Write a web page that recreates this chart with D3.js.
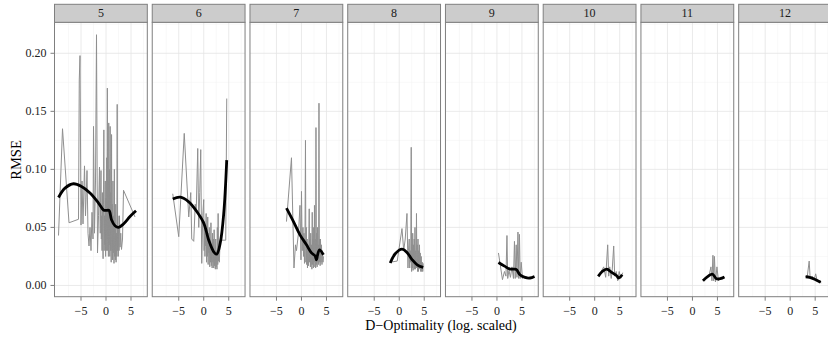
<!DOCTYPE html>
<html>
<head>
<meta charset="utf-8">
<script src="https://cdn.jsdelivr.net/npm/d3@7"></script>
<style>
  html, body { margin: 0; padding: 0; background: #fff; }
  svg { display: block; }
  text { font-family: "Liberation Serif", "DejaVu Serif", serif; }
</style>
</head>
<body>
<svg id="chart" width="828" height="337"></svg>
<script>
// facet labels (number of factors)
const facets = ["5", "6", "7", "8", "9", "10", "11", "12"];

const xTicks = [-5, 0, 5];
const xMinor = [-7.5, -2.5, 2.5, 7.5];
const yTicks = [0, 0.05, 0.10, 0.15, 0.20];
const yMinor = [0.025, 0.075, 0.125, 0.175, 0.225];

// raw RMSE traces, [D-optimality, RMSE]
const raw5 = [[-9.5,0.043],[-8.7,0.135],[-7.4,0.054],[-5.5,0.057],[-5.35,0.177],[-5.2,0.198],[-5.0,0.052],[-4.8,0.09],[-4.6,0.053],[-4.3,0.103],[-4.1,0.06],[-3.8,0.099],[-3.6,0.045],[-3.4,0.034],[-3.2,0.05],[-3.0,0.030],[-2.8,0.063],[-2.6,0.04],[-2.5,0.137],[-2.3,0.045],[-2.1,0.09],[-1.9,0.216],[-1.7,0.028],[-1.5,0.06],[-1.3,0.102],[-1.15,0.045],
  [-1.0,0.099],[-0.93,0.04],[-0.86,0.06],[-0.79,0.03],[-0.72,0.08],[-0.65,0.035],[-0.58,0.023],[-0.5,0.07],[-0.43,0.134],[-0.36,0.03],[-0.29,0.06],[-0.22,0.035],[-0.15,0.09],[-0.08,0.025],[0,0.075],[0.07,0.03],[0.14,0.11],[0.21,0.04],[0.27,0.17],[0.34,0.03],[0.41,0.09],[0.48,0.025],[0.55,0.14],[0.62,0.035],[0.69,0.1],[0.76,0.025],[0.83,0.137],[0.9,0.03],[0.97,0.08],[1.04,0.02],[1.11,0.13],[1.18,0.03],[1.25,0.07],[1.32,0.022],[1.39,0.09],[1.46,0.028],[1.53,0.06],[1.6,0.019],[1.67,0.1],[1.74,0.025],[1.81,0.05],[1.88,0.022],[1.95,0.07],[2.02,0.02],[2.1,0.045],[2.17,0.025],[2.24,0.156],[2.31,0.03],[2.38,0.06],[2.45,0.025],[2.52,0.05],[2.6,0.03],[2.7,0.06],[2.8,0.033],[2.95,0.045],[3.1,0.031],[3.3,0.04],[3.5,0.082],[5.8,0.059]];
const raw6 = [[-6.2,0.079],[-5.0,0.042],[-3.9,0.131],[-3.0,0.059],[-2.6,0.08],[-2.4,0.04],[-2.0,0.038],[-1.7,0.07],[-1.5,0.065],[-1.2,0.118],[-1.0,0.05],[-0.8,0.08],[-0.6,0.117],[-0.4,0.019],[-0.2,0.06],
  [0,0.074],[0.08,0.03],[0.16,0.055],[0.24,0.025],[0.32,0.045],[0.4,0.034],[0.48,0.062],[0.56,0.02],[0.64,0.05],[0.72,0.025],[0.8,0.059],[0.88,0.018],[0.96,0.045],[1.04,0.028],[1.12,0.05],[1.2,0.016],[1.28,0.04],[1.36,0.02],[1.44,0.054],[1.52,0.017],[1.6,0.035],[1.68,0.015],[1.76,0.045],[1.84,0.02],[1.92,0.04],[2.0,0.015],[2.08,0.048],[2.16,0.017],[2.24,0.03],[2.32,0.014],[2.4,0.04],[2.48,0.016],[2.56,0.03],[2.64,0.014],[2.72,0.05],[2.8,0.018],[2.88,0.062],[2.96,0.021],[3.04,0.035],[3.12,0.02],[3.2,0.03],[3.3,0.039],[4.4,0.039],[4.6,0.161]];
const raw7 = [[-3.0,0.055],[-2.0,0.11],[-1.5,0.015],[-1.2,0.035],[-1.0,0.03],[-0.6,0.045],[-0.3,0.069],[-0.1,0.022],[0,0.081],[0.15,0.03],[0.3,0.05],[0.4,0.025],[0.5,0.045],[0.6,0.019],[0.7,0.04],[0.8,0.125],[0.88,0.02],[0.96,0.05],[1.04,0.018],[1.12,0.04],[1.2,0.015],[1.3,0.035],[1.4,0.017],[1.55,0.066],[1.63,0.02],[1.7,0.04],[1.78,0.016],[1.85,0.045],[1.93,0.018],[2.0,0.035],[2.08,0.014],[2.15,0.063],[2.23,0.018],[2.3,0.04],[2.38,0.015],[2.45,0.05],[2.53,0.02],[2.6,0.069],[2.68,0.016],[2.75,0.04],[2.83,0.015],[2.9,0.136],[2.98,0.018],[3.05,0.045],[3.13,0.016],[3.2,0.05],[3.28,0.02],[3.35,0.035],[3.42,0.018],[3.5,0.157],[3.58,0.02],[3.65,0.04],[3.73,0.017],[3.8,0.04],[3.9,0.02],[4.0,0.035],[4.1,0.018],[4.2,0.03],[4.3,0.02],[4.4,0.025]];
const raw8 = [[-1.8,0.02],[-0.4,0.021],[0.55,0.049],[0.9,0.03],[1.2,0.04],[1.55,0.062],[1.75,0.015],[1.85,0.03],[2.0,0.04],[2.1,0.015],[2.2,0.03],[2.3,0.02],[2.4,0.119],[2.48,0.012],[2.55,0.035],[2.63,0.015],[2.7,0.045],[2.78,0.013],[2.85,0.035],[2.92,0.018],[3.0,0.04],[3.08,0.014],[3.15,0.05],[3.23,0.014],[3.3,0.03],[3.38,0.015],[3.45,0.062],[3.53,0.015],[3.6,0.035],[3.68,0.012],[3.75,0.04],[3.83,0.012],[3.9,0.03],[3.98,0.014],[4.05,0.035],[4.13,0.015],[4.2,0.028],[4.3,0.012],[4.4,0.025],[4.5,0.012],[4.6,0.02],[4.7,0.012],[4.8,0.019]];
const raw9 = [[0.3,0.028],[1.1,0.005],[1.5,0.012],[1.8,0.008],[2.0,0.043],[2.15,0.006],[2.4,0.013],[2.7,0.007],[3.0,0.016],[3.3,0.006],[3.5,0.038],[3.65,0.006],[3.85,0.035],[4.0,0.007],[4.2,0.046],[4.35,0.006],[4.5,0.044],[4.65,0.006],[4.85,0.02],[5.1,0.006],[5.6,0.008],[6.5,0.006],[7.5,0.008]];
const raw10 = [[0.7,0.009],[1.3,0.012],[1.8,0.016],[2.2,0.007],[2.6,0.035],[2.8,0.008],[3.0,0.016],[3.3,0.006],[3.5,0.013],[3.8,0.034],[4.0,0.008],[4.3,0.012],[4.6,0.004],[4.9,0.012],[5.2,0.006],[5.6,0.011]];
const raw11 = [[2.1,0.004],[3.1,0.007],[3.4,0.01],[3.7,0.016],[3.9,0.004],[4.1,0.026],[4.25,0.004],[4.4,0.025],[4.6,0.003],[4.9,0.016],[5.2,0.004],[5.6,0.007],[6.4,0.007]];
const raw12 = [[3.0,0.008],[3.4,0.007],[3.8,0.021],[4.0,0.006],[4.4,0.008],[4.8,0.005],[5.1,0.01],[5.4,0.004],[5.8,0.004],[6.2,0.002]];

// loess smooths
const smooth5 = [[-9.5,0.0758],[-8.2,0.0838],[-6.5,0.0876],[-4.9,0.0852],[-3.2,0.0796],[-1.5,0.071],[-0.5,0.065],[0,0.0646],[0.6,0.0646],[1.1,0.0566],[1.8,0.0514],[2.5,0.050],[3.5,0.053],[4.8,0.0594],[6.0,0.0643]];
const smooth6 = [[-6.2,0.0744],[-4.7,0.076],[-3.0,0.072],[-1.4,0.0637],[0,0.0537],[1.0,0.039],[2.0,0.029],[2.6,0.027],[3.3,0.0365],[4.0,0.062],[4.6,0.108]];
const smooth7 = [[-3.0,0.0666],[-1.6,0.055],[-0.3,0.0436],[1.0,0.035],[2.0,0.028],[2.7,0.0256],[3.0,0.022],[3.2,0.026],[3.6,0.0307],[4.4,0.0264]];
const smooth8 = [[-1.8,0.0193],[-0.8,0.0273],[0.55,0.0313],[1.55,0.0284],[2.6,0.0221],[3.6,0.0178],[4.8,0.0155]];
const smooth9 = [[0.3,0.0198],[1.6,0.0164],[2.6,0.0141],[3.5,0.0141],[3.9,0.0136],[4.6,0.0092],[5.6,0.0069],[6.6,0.0064],[7.5,0.0078]];
const smooth10 = [[0.7,0.0078],[1.5,0.012],[2.4,0.0141],[3.4,0.0112],[4.4,0.0084],[4.8,0.0064],[5.5,0.0092]];
const smooth11 = [[2.1,0.004],[3.1,0.0078],[4.0,0.0098],[4.8,0.0058],[5.6,0.0058],[6.4,0.0072]];
const smooth12 = [[3.1,0.0075],[3.9,0.007],[4.9,0.0054],[6.1,0.0027]];

const rawList = [raw5, raw6, raw7, raw8, raw9, raw10, raw11, raw12];
const smoothList = [smooth5, smooth6, smooth7, smooth8, smooth9, smooth10, smooth11, smooth12];

const svg = d3.select("#chart");

const left0 = 54.5, step = 97.74, pw = 92.8;
const stripTop = 4.3, panelTop = 22.3, panelBottom = 296.7;
const ph = panelBottom - panelTop;

const x = d3.scaleLinear().domain([-10.3, 8.26]).range([0, pw]);
const y = d3.scaleLinear().domain([-0.0097, 0.2267]).range([ph, 0]);

const line = d3.line().x(d => x(d[0])).y(d => y(d[1]));
const smoothLine = d3.line().x(d => x(d[0])).y(d => y(d[1])).curve(d3.curveCatmullRom.alpha(0.5));

const defs = svg.append("defs");
defs.append("clipPath").attr("id", "panel-clip")
  .append("rect").attr("width", pw).attr("height", ph);

facets.forEach((name, i) => {
  const g = svg.append("g").attr("transform", `translate(${left0 + i * step},${panelTop})`);

  // grid
  yMinor.forEach(t => {
    g.append("line").attr("x1", 0).attr("x2", pw).attr("y1", y(t)).attr("y2", y(t))
      .attr("stroke", "#f3f3f3").attr("stroke-width", 0.6);
  });
  xMinor.forEach(t => {
    g.append("line").attr("x1", x(t)).attr("x2", x(t)).attr("y1", 0).attr("y2", ph)
      .attr("stroke", "#f3f3f3").attr("stroke-width", 0.6);
  });
  yTicks.forEach(t => {
    g.append("line").attr("x1", 0).attr("x2", pw).attr("y1", y(t)).attr("y2", y(t))
      .attr("stroke", "#e5e5e5").attr("stroke-width", 0.8);
  });
  xTicks.forEach(t => {
    g.append("line").attr("x1", x(t)).attr("x2", x(t)).attr("y1", 0).attr("y2", ph)
      .attr("stroke", "#e5e5e5").attr("stroke-width", 0.8);
  });

  const plot = g.append("g").attr("clip-path", "url(#panel-clip)");
  plot.append("path").datum(rawList[i]).attr("d", line)
    .attr("fill", "none").attr("stroke", "#8f8f8f").attr("stroke-width", 1)
    .attr("stroke-linejoin", "round");
  plot.append("path").datum(smoothList[i]).attr("d", smoothLine)
    .attr("fill", "none").attr("stroke", "#000").attr("stroke-width", 2.8)
    .attr("stroke-linecap", "butt").attr("stroke-linejoin", "round");

  // panel border
  g.append("rect").attr("x", 0).attr("y", 0).attr("width", pw).attr("height", ph)
    .attr("fill", "none").attr("stroke", "#7f7f7f").attr("stroke-width", 1);

  // strip
  g.append("rect").attr("x", 0).attr("y", stripTop - panelTop).attr("width", pw).attr("height", panelTop - stripTop)
    .attr("fill", "#cccccc").attr("stroke", "#7f7f7f").attr("stroke-width", 1);
  g.append("text").attr("x", pw / 2).attr("y", -5.4)
    .attr("text-anchor", "middle").attr("font-size", "12px").attr("fill", "#1a1a1a")
    .text(name);

  // x axis ticks + labels
  xTicks.forEach(t => {
    g.append("line").attr("x1", x(t)).attr("x2", x(t)).attr("y1", ph).attr("y2", ph + 4)
      .attr("stroke", "#7f7f7f").attr("stroke-width", 1);
    g.append("text").attr("x", x(t)).attr("y", ph + 18)
      .attr("text-anchor", "middle").attr("font-size", "12px").attr("fill", "#222")
      .text(d3.format("")(t).replace("-", "\u2212"));
  });

  // y axis only on first panel
  if (i === 0) {
    yTicks.forEach(t => {
      g.append("line").attr("x1", -4).attr("x2", 0).attr("y1", y(t)).attr("y2", y(t))
        .attr("stroke", "#7f7f7f").attr("stroke-width", 1);
      g.append("text").attr("x", -8).attr("y", y(t) + 4)
        .attr("text-anchor", "end").attr("font-size", "12px").attr("fill", "#222")
        .text(d3.format(".2f")(t));
    });
  }
});

// axis titles
svg.append("text").attr("x", 441).attr("y", 329.5)
  .attr("text-anchor", "middle").attr("font-size", "14px").attr("fill", "#000")
  .text("D\u2212Optimality (log. scaled)");
svg.append("text").attr("transform", "translate(20.5,160) rotate(-90)")
  .attr("text-anchor", "middle").attr("font-size", "14.5px").attr("fill", "#000")
  .text("RMSE");
</script>
</body>
</html>
